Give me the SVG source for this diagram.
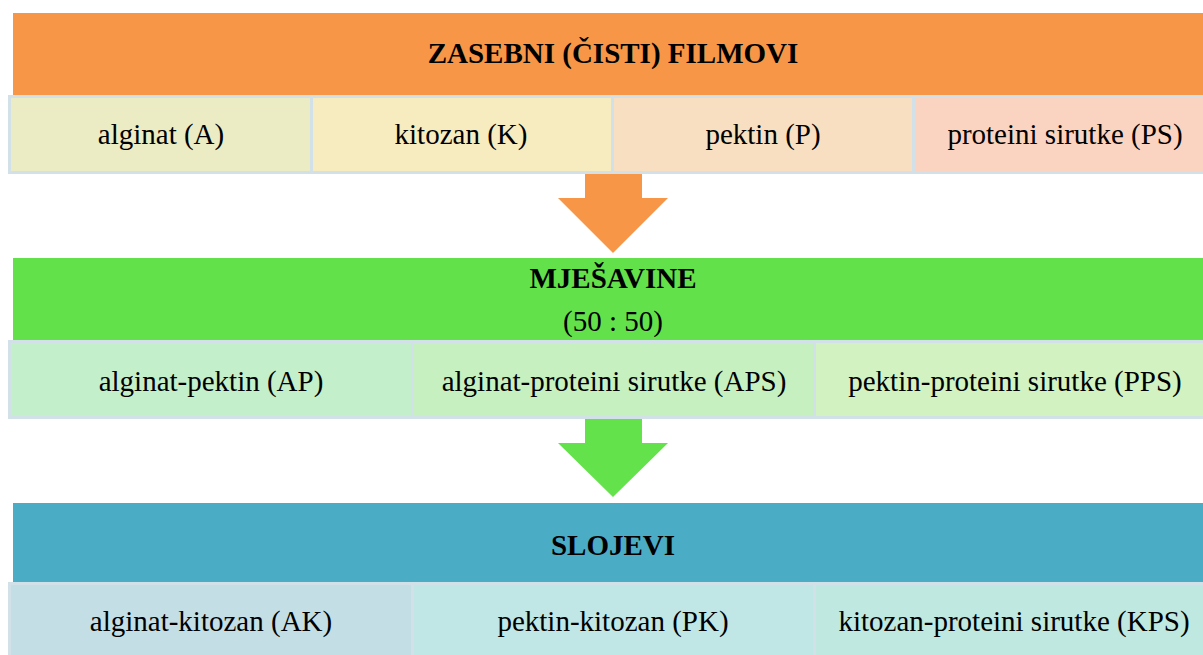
<svg xmlns="http://www.w3.org/2000/svg" width="1203" height="655" viewBox="0 0 1203 655">
<style>
text{font-family:'Liberation Serif','Times New Roman',serif;font-size:29px;fill:#000;text-anchor:middle}
.h{font-weight:bold}
.c{stroke:#D2E1E8;stroke-width:3}
</style>
<rect width="1203" height="655" fill="#fff"/>
<g id="connectors">
<polygon points="585,172 642,172 642,198 668,198 613,253 558,198 585,198" fill="#F79646"/>
<polygon points="585,418 642,418 642,443 668,443 613,497 558,443 585,443" fill="#64E24B"/>
</g>
<g id="header-zasebni">
<rect x="13" y="13" width="1195" height="83" fill="#F79646"/>
<text class="h" x="613" y="63">ZASEBNI (ČISTI) FILMOVI</text>
</g>
<g id="cell-alginat"><rect class="c" x="9.5" y="96.5" width="302" height="76" fill="#EBEBC4"/><text x="161" y="144">alginat (A)</text></g>
<g id="cell-kitozan"><rect class="c" x="311.5" y="96.5" width="301" height="76" fill="#F7EBC0"/><text x="461" y="144">kitozan (K)</text></g>
<g id="cell-pektin"><rect class="c" x="612.5" y="96.5" width="301" height="76" fill="#F8DFC1"/><text x="763" y="144">pektin (P)</text></g>
<g id="cell-proteini"><rect class="c" x="913.5" y="96.5" width="301" height="76" fill="#FAD4C0"/><text x="1065" y="144">proteini sirutke (PS)</text></g>
<g id="header-mjesavine">
<rect x="13" y="258" width="1195" height="83" fill="#62E14A"/>
<text class="h" x="613" y="288">MJEŠAVINE</text>
<text x="613" y="331">(50 : 50)</text>
</g>
<g id="cell-ap"><rect class="c" x="9.5" y="341.5" width="403" height="76" fill="#C4EFCB"/><text x="211" y="391">alginat-pektin (AP)</text></g>
<g id="cell-aps"><rect class="c" x="412.5" y="341.5" width="402" height="76" fill="#C7F0C0"/><text x="614" y="391">alginat-proteini sirutke (APS)</text></g>
<g id="cell-pps"><rect class="c" x="814.5" y="341.5" width="402" height="76" fill="#D2F2C2"/><text x="1015" y="391">pektin-proteini sirutke (PPS)</text></g>
<g id="header-slojevi">
<rect x="13" y="503" width="1195" height="80" fill="#4BACC6"/>
<text class="h" x="613" y="555">SLOJEVI</text>
</g>
<g id="cell-ak"><rect class="c" x="9.5" y="583.5" width="403" height="76" fill="#C4DEE6"/><text x="211" y="631">alginat-kitozan (AK)</text></g>
<g id="cell-pk"><rect class="c" x="412.5" y="583.5" width="402" height="76" fill="#C0E6E6"/><text x="613" y="631">pektin-kitozan (PK)</text></g>
<g id="cell-kps"><rect class="c" x="814.5" y="583.5" width="402" height="76" fill="#BFE8E0"/><text x="1014" y="631">kitozan-proteini sirutke (KPS)</text></g>
</svg>
